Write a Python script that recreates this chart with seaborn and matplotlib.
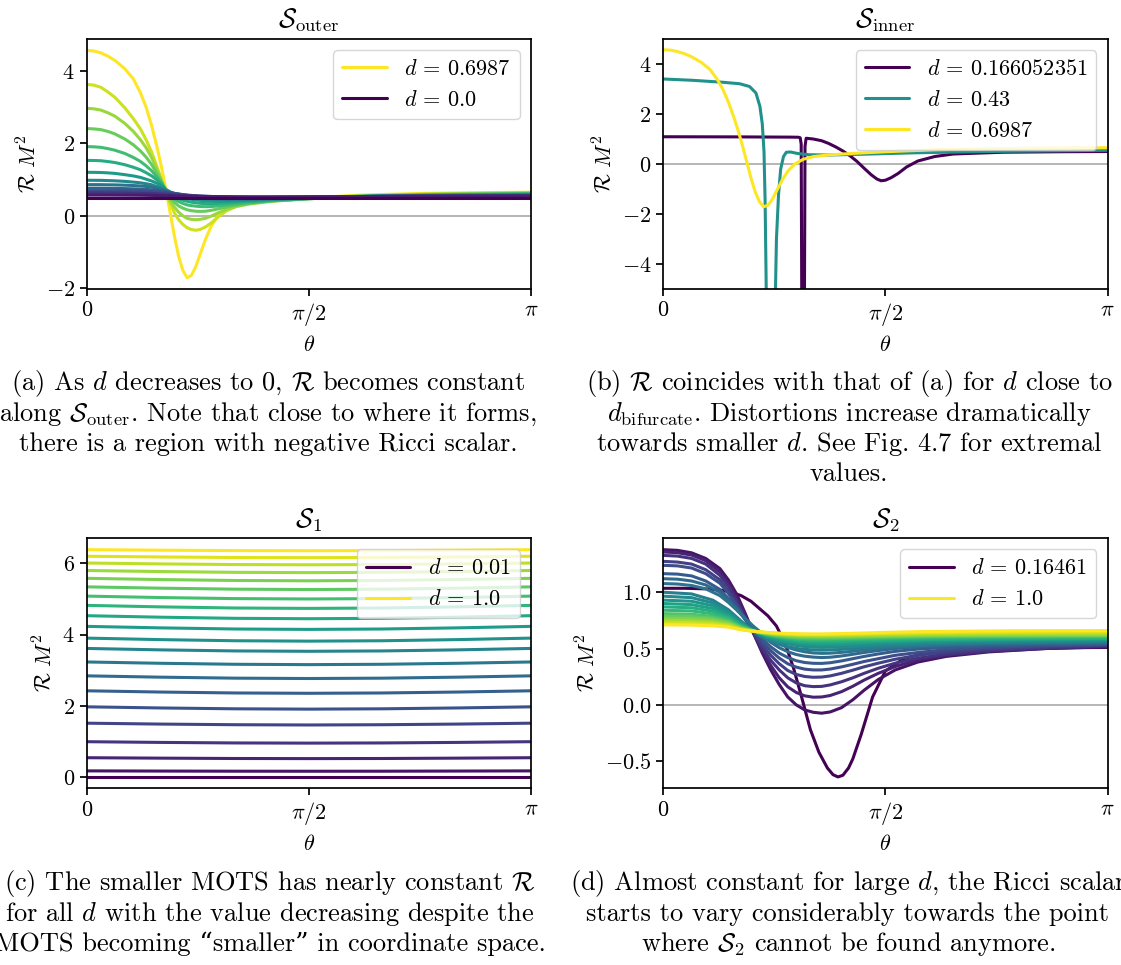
import numpy as np
import matplotlib
matplotlib.use("Agg")
import matplotlib.pyplot as plt
import seaborn as sns

# ---------------- data ----------------
PI = 3.14159265

# (a) S_outer : curves ordered from d = 0.6987 (yellow) down to d = 0.0 (purple)
theta_outer = [0, 0.05, 0.1, 0.15, 0.2, 0.27, 0.33, 0.38, 0.42, 0.46, 0.50, 0.53, 0.56, 0.59, 0.62,
               0.65, 0.68, 0.71, 0.74, 0.77, 0.80, 0.84, 0.88, 0.93, 0.99, 1.06, 1.16, 1.31, 1.57,
               1.92, 2.4, 2.8, PI]
outer_curves = [
    [4.57, 4.555, 4.50, 4.41, 4.29, 4.06, 3.78, 3.40, 3.00, 2.48, 1.85, 1.32, 0.73, 0.09, -0.56, -1.12, -1.51, -1.71, -1.65, -1.42, -1.09, -0.65, -0.29, 0.0, 0.19, 0.295, 0.36, 0.415, 0.49, 0.57, 0.62, 0.64, 0.65],
    [3.63, 3.61, 3.55, 3.42, 3.27, 2.98, 2.68, 2.40, 2.10, 1.75, 1.32, 0.99, 0.66, 0.35, 0.08, -0.11, -0.24, -0.33, -0.38, -0.40, -0.38, -0.31, -0.20, -0.03, 0.14, 0.26, 0.345, 0.41, 0.48, 0.555, 0.60, 0.625, 0.64],
    [2.97, 2.955, 2.92, 2.845, 2.75, 2.55, 2.33, 2.10, 1.88, 1.60, 1.25, 0.96, 0.68, 0.43, 0.24, 0.10, 0.0, -0.07, -0.10, -0.11, -0.10, -0.07, -0.01, 0.08, 0.18, 0.26, 0.33, 0.40, 0.47, 0.545, 0.595, 0.615, 0.63],
    [2.41, 2.40, 2.38, 2.33, 2.26, 2.12, 1.96, 1.79, 1.62, 1.41, 1.15, 0.93, 0.68, 0.50, 0.37, 0.27, 0.21, 0.165, 0.14, 0.125, 0.12, 0.125, 0.15, 0.19, 0.24, 0.29, 0.35, 0.41, 0.47, 0.54, 0.585, 0.605, 0.62],
    [1.91, 1.905, 1.89, 1.855, 1.81, 1.72, 1.61, 1.50, 1.38, 1.24, 1.06, 0.90, 0.70, 0.56, 0.46, 0.39, 0.34, 0.30, 0.28, 0.265, 0.255, 0.25, 0.255, 0.27, 0.295, 0.325, 0.365, 0.415, 0.47, 0.53, 0.575, 0.595, 0.61],
    [1.53, 1.527, 1.52, 1.498, 1.47, 1.41, 1.34, 1.27, 1.19, 1.10, 0.98, 0.87, 0.72, 0.61, 0.53, 0.47, 0.43, 0.40, 0.375, 0.36, 0.345, 0.335, 0.335, 0.34, 0.355, 0.375, 0.40, 0.435, 0.48, 0.53, 0.565, 0.585, 0.60],
    [1.20, 1.199, 1.195, 1.185, 1.17, 1.135, 1.10, 1.06, 1.01, 0.96, 0.89, 0.82, 0.73, 0.66, 0.60, 0.55, 0.51, 0.48, 0.455, 0.44, 0.425, 0.41, 0.405, 0.40, 0.405, 0.415, 0.43, 0.455, 0.49, 0.53, 0.56, 0.575, 0.59],
    [0.98, 0.979, 0.978, 0.972, 0.965, 0.95, 0.93, 0.91, 0.885, 0.855, 0.80, 0.755, 0.70, 0.65, 0.61, 0.575, 0.55, 0.53, 0.51, 0.495, 0.48, 0.47, 0.46, 0.45, 0.445, 0.445, 0.45, 0.465, 0.495, 0.53, 0.555, 0.57, 0.58],
    [0.86, 0.86, 0.859, 0.856, 0.853, 0.845, 0.835, 0.823, 0.81, 0.79, 0.76, 0.72, 0.68, 0.645, 0.615, 0.59, 0.57, 0.55, 0.535, 0.52, 0.51, 0.50, 0.49, 0.48, 0.475, 0.473, 0.475, 0.48, 0.50, 0.53, 0.55, 0.56, 0.57],
    [0.76, 0.76, 0.759, 0.757, 0.755, 0.75, 0.743, 0.735, 0.727, 0.717, 0.705, 0.69, 0.67, 0.645, 0.62, 0.60, 0.58, 0.565, 0.55, 0.54, 0.53, 0.52, 0.51, 0.50, 0.495, 0.49, 0.49, 0.495, 0.505, 0.53, 0.545, 0.555, 0.565],
    [0.69, 0.69, 0.69, 0.689, 0.687, 0.684, 0.68, 0.675, 0.67, 0.664, 0.656, 0.648, 0.64, 0.628, 0.615, 0.60, 0.585, 0.573, 0.562, 0.553, 0.545, 0.537, 0.53, 0.522, 0.515, 0.51, 0.507, 0.507, 0.515, 0.53, 0.545, 0.553, 0.558],
    [0.63, 0.63, 0.63, 0.629, 0.628, 0.626, 0.623, 0.62, 0.617, 0.613, 0.608, 0.603, 0.597, 0.59, 0.582, 0.574, 0.567, 0.56, 0.554, 0.548, 0.543, 0.538, 0.533, 0.528, 0.523, 0.52, 0.518, 0.518, 0.522, 0.532, 0.542, 0.548, 0.552],
    [0.57, 0.57, 0.57, 0.57, 0.569, 0.568, 0.567, 0.566, 0.564, 0.562, 0.56, 0.557, 0.554, 0.551, 0.548, 0.545, 0.542, 0.539, 0.536, 0.534, 0.532, 0.53, 0.528, 0.526, 0.524, 0.522, 0.521, 0.521, 0.524, 0.53, 0.537, 0.541, 0.543],
]
theta_outer_d0 = [0, PI]
outer_d0 = [0.5, 0.5]
outer_labels = [r"$d\,=\,0.6987$", r"$d\,=\,0.0$"]

# (b) S_inner
theta_inner_a = [0, 0.5, 0.90, 0.955, 0.968, 0.975, 0.982, 0.988, 0.995, 1.002, 1.01, 1.06, 1.12,
                 1.17, 1.22, 1.27, 1.32, 1.37, 1.42, 1.47, 1.51, 1.54, 1.57, 1.61, 1.66, 1.72,
                 1.80, 1.92, 2.05, 2.4, 2.8, PI]
inner_a = [1.09, 1.085, 1.075, 1.07, 1.05, 0.8, -10, -40, -10, 0.7, 1.03, 1.0, 0.93, 0.82, 0.68,
           0.52, 0.33, 0.10, -0.17, -0.43, -0.60, -0.67, -0.65, -0.55, -0.38, -0.12, 0.12, 0.30,
           0.40, 0.47, 0.49, 0.50]
theta_inner_b = [0, 0.2, 0.42, 0.54, 0.61, 0.655, 0.683, 0.70, 0.712, 0.72, 0.73, 0.76, 0.79,
                 0.80, 0.815, 0.83, 0.85, 0.87, 0.90, 0.95, 1.03, 1.17, 1.40, 1.80, 2.3, 2.8, PI]
inner_b = [3.40, 3.35, 3.27, 3.21, 3.10, 2.84, 2.31, 1.6, 0.5, -1.5, -6, -30, -6, -3.0, -1.2,
           -0.2, 0.30, 0.47, 0.48, 0.42, 0.37, 0.36, 0.39, 0.45, 0.50, 0.53, 0.55]
inner_c = outer_curves[0]
inner_labels = [r"$d\,=\,0.166052351$", r"$d\,=\,0.43$", r"$d\,=\,0.6987$"]

# (c) S_1 : from d = 0.01 (purple) to d = 1.0 (yellow)
theta_s1 = [0, 0.52, 1.05, 1.57, 2.09, 2.62, PI]
s1_curves = [
    [0.0, 0.0, 0.0, 0.0, 0.0, 0.0, 0.0],
    [0.17, 0.165, 0.161, 0.16, 0.161, 0.165, 0.17],
    [0.54, 0.528, 0.518, 0.515, 0.518, 0.528, 0.54],
    [0.99, 0.97, 0.955, 0.95, 0.955, 0.97, 0.99],
    [1.51, 1.485, 1.467, 1.46, 1.467, 1.485, 1.51],
    [1.97, 1.938, 1.914, 1.905, 1.914, 1.938, 1.97],
    [2.42, 2.385, 2.359, 2.35, 2.359, 2.385, 2.42],
    [2.84, 2.803, 2.775, 2.765, 2.775, 2.803, 2.84],
    [3.23, 3.193, 3.165, 3.155, 3.165, 3.193, 3.23],
    [3.61, 3.57, 3.54, 3.53, 3.54, 3.57, 3.61],
    [3.90, 3.858, 3.826, 3.815, 3.826, 3.858, 3.90],
    [4.23, 4.188, 4.156, 4.145, 4.156, 4.188, 4.23],
    [4.53, 4.488, 4.456, 4.445, 4.456, 4.488, 4.53],
    [4.82, 4.778, 4.746, 4.735, 4.746, 4.778, 4.82],
    [5.08, 5.04, 5.01, 5.0, 5.01, 5.04, 5.08],
    [5.34, 5.303, 5.275, 5.265, 5.275, 5.303, 5.34],
    [5.58, 5.545, 5.519, 5.51, 5.519, 5.545, 5.58],
    [5.80, 5.77, 5.748, 5.74, 5.748, 5.77, 5.80],
    [6.01, 5.985, 5.967, 5.96, 5.967, 5.985, 6.01],
    [6.20, 6.18, 6.165, 6.16, 6.165, 6.18, 6.20],
    [6.385, 6.37, 6.359, 6.355, 6.359, 6.37, 6.385],
]
s1_labels = [r"$d\,=\,0.01$", r"$d\,=\,1.0$"]

# (d) S_2 : from d = 0.16461 (purple) to d = 1.0 (yellow)
theta_s2_first = [0, 0.15, 0.30, 0.40, 0.48, 0.55, 0.62, 0.68, 0.74, 0.80, 0.86, 0.92, 0.98, 1.04,
                  1.10, 1.16, 1.20, 1.235, 1.27, 1.31, 1.34, 1.40, 1.48, 1.57, 1.70, 1.85, 2.05,
                  2.35, 2.70, PI]
s2_first = [1.035, 1.035, 1.03, 1.02, 1.00, 0.97, 0.92, 0.855, 0.79, 0.70, 0.55, 0.33, 0.06, -0.22,
            -0.42, -0.56, -0.62, -0.64, -0.625, -0.56, -0.48, -0.26, 0.07, 0.30, 0.41, 0.46, 0.485,
            0.50, 0.505, 0.51]
theta_s2_dark = [0, 0.1, 0.2, 0.3, 0.4, 0.46, 0.52, 0.58, 0.64, 0.70, 0.76, 0.82, 0.88, 0.94, 1.00,
                 1.06, 1.12, 1.18, 1.26, 1.34, 1.42, 1.52, 1.64, 1.80, 2.00, 2.30, 2.70, PI]
s2_dark = [
    [1.378, 1.372, 1.35, 1.30, 1.21, 1.11, 0.98, 0.81, 0.63, 0.46, 0.31, 0.18, 0.07, 0.0, -0.045, -0.066, -0.074, -0.063, -0.025, 0.045, 0.13, 0.225, 0.31, 0.38, 0.43, 0.47, 0.50, 0.515],
    [1.357, 1.351, 1.33, 1.28, 1.18, 1.08, 0.95, 0.79, 0.63, 0.48, 0.35, 0.24, 0.16, 0.11, 0.08, 0.068, 0.07, 0.083, 0.117, 0.165, 0.22, 0.28, 0.34, 0.40, 0.44, 0.475, 0.50, 0.52],
    [1.327, 1.321, 1.30, 1.25, 1.15, 1.05, 0.92, 0.77, 0.63, 0.50, 0.395, 0.31, 0.24, 0.195, 0.17, 0.162, 0.164, 0.177, 0.205, 0.24, 0.28, 0.325, 0.37, 0.415, 0.45, 0.48, 0.505, 0.525],
    [1.274, 1.268, 1.25, 1.20, 1.11, 1.01, 0.89, 0.76, 0.64, 0.53, 0.44, 0.365, 0.305, 0.27, 0.252, 0.245, 0.247, 0.257, 0.28, 0.308, 0.338, 0.37, 0.405, 0.44, 0.47, 0.495, 0.515, 0.53],
    [1.239, 1.234, 1.215, 1.165, 1.08, 0.99, 0.88, 0.76, 0.65, 0.56, 0.48, 0.415, 0.365, 0.335, 0.317, 0.31, 0.31, 0.318, 0.337, 0.36, 0.385, 0.41, 0.44, 0.465, 0.49, 0.51, 0.525, 0.535],
    [1.165, 1.161, 1.145, 1.10, 1.025, 0.945, 0.855, 0.755, 0.665, 0.585, 0.515, 0.46, 0.42, 0.392, 0.376, 0.369, 0.368, 0.374, 0.39, 0.41, 0.43, 0.452, 0.475, 0.495, 0.51, 0.525, 0.535, 0.54],
    [1.12, 1.116, 1.10, 1.065, 1.00, 0.93, 0.85, 0.765, 0.685, 0.615, 0.555, 0.507, 0.472, 0.447, 0.432, 0.424, 0.42, 0.423, 0.434, 0.449, 0.465, 0.482, 0.50, 0.515, 0.527, 0.538, 0.545, 0.55],
    [1.077, 1.073, 1.06, 1.03, 0.97, 0.91, 0.84, 0.765, 0.695, 0.633, 0.58, 0.54, 0.51, 0.487, 0.471, 0.461, 0.457, 0.459, 0.466, 0.476, 0.488, 0.50, 0.513, 0.525, 0.535, 0.545, 0.55, 0.555],
]
theta_s2_light = [0, 0.2, 0.35, 0.46, 0.55, 0.61, 0.67, 0.73, 0.80, 0.88, 0.96, 1.04, 1.12, 1.22,
                  1.32, 1.44, 1.58, 1.80, 2.10, 2.50, PI]
s2_light = [
    [1.00, 0.985, 0.93, 0.845, 0.745, 0.683, 0.627, 0.582, 0.545, 0.516, 0.498, 0.489, 0.486, 0.49, 0.497, 0.508, 0.52, 0.535, 0.548, 0.558, 0.565],
    [0.965, 0.952, 0.905, 0.828, 0.737, 0.68, 0.635, 0.598, 0.567, 0.541, 0.523, 0.513, 0.51, 0.513, 0.518, 0.527, 0.537, 0.549, 0.558, 0.565, 0.57],
    [0.93, 0.92, 0.88, 0.81, 0.727, 0.68, 0.64, 0.607, 0.58, 0.557, 0.541, 0.532, 0.53, 0.532, 0.537, 0.545, 0.553, 0.563, 0.57, 0.576, 0.58],
    [0.90, 0.89, 0.855, 0.795, 0.717, 0.676, 0.641, 0.612, 0.589, 0.568, 0.554, 0.547, 0.545, 0.547, 0.551, 0.557, 0.563, 0.571, 0.577, 0.582, 0.585],
    [0.87, 0.862, 0.832, 0.78, 0.707, 0.672, 0.642, 0.617, 0.597, 0.58, 0.567, 0.561, 0.56, 0.562, 0.565, 0.569, 0.574, 0.58, 0.584, 0.588, 0.59],
    [0.84, 0.834, 0.808, 0.765, 0.699, 0.67, 0.644, 0.622, 0.605, 0.59, 0.58, 0.576, 0.575, 0.577, 0.579, 0.583, 0.586, 0.591, 0.595, 0.598, 0.60],
    [0.81, 0.805, 0.785, 0.75, 0.691, 0.667, 0.645, 0.627, 0.611, 0.598, 0.59, 0.586, 0.585, 0.587, 0.589, 0.593, 0.596, 0.601, 0.605, 0.608, 0.61],
    [0.79, 0.786, 0.77, 0.738, 0.686, 0.665, 0.646, 0.63, 0.616, 0.605, 0.599, 0.596, 0.595, 0.596, 0.598, 0.601, 0.604, 0.608, 0.611, 0.613, 0.615],
    [0.77, 0.767, 0.753, 0.727, 0.681, 0.663, 0.647, 0.634, 0.622, 0.613, 0.608, 0.606, 0.605, 0.606, 0.607, 0.61, 0.612, 0.615, 0.617, 0.619, 0.62],
    [0.75, 0.747, 0.737, 0.715, 0.676, 0.661, 0.648, 0.637, 0.627, 0.62, 0.615, 0.613, 0.612, 0.613, 0.615, 0.617, 0.62, 0.624, 0.626, 0.629, 0.63],
    [0.735, 0.733, 0.724, 0.706, 0.673, 0.66, 0.649, 0.64, 0.632, 0.626, 0.622, 0.62, 0.62, 0.621, 0.623, 0.626, 0.629, 0.633, 0.636, 0.638, 0.64],
    [0.72, 0.718, 0.711, 0.697, 0.669, 0.658, 0.65, 0.642, 0.635, 0.63, 0.627, 0.625, 0.625, 0.627, 0.629, 0.633, 0.636, 0.641, 0.645, 0.648, 0.65],
    [0.71, 0.708, 0.702, 0.69, 0.666, 0.657, 0.65, 0.644, 0.638, 0.634, 0.631, 0.63, 0.63, 0.632, 0.635, 0.639, 0.644, 0.65, 0.654, 0.658, 0.66],
]
s2_labels = [r"$d\,=\,0.16461$", r"$d\,=\,1.0$"]

xtick_labels = [r"$0$", r"$\pi/2$", r"$\pi$"]
titles = [r"$\mathcal{S}_{\rm outer}$", r"$\mathcal{S}_{\rm inner}$", r"$\mathcal{S}_1$", r"$\mathcal{S}_2$"]
captions = [
    ["(a) As $d$ decreases to 0, $\\mathcal{R}$ becomes constant",
     "along $\\mathcal{S}_{\\rm outer}$. Note that close to where it forms,",
     "there is a region with negative Ricci scalar."],
    ["(b) $\\mathcal{R}$ coincides with that of (a) for $d$ close to",
     "$d_{\\rm bifurcate}$. Distortions increase dramatically",
     "towards smaller $d$. See Fig. 4.7 for extremal",
     "values."],
    ["(c) The smaller MOTS has nearly constant $\\mathcal{R}$",
     "for all $d$ with the value decreasing despite the",
     "MOTS becoming \u201csmaller\u201d in coordinate space."],
    ["(d) Almost constant for large $d$, the Ricci scalar",
     "starts to vary considerably towards the point",
     "where $\\mathcal{S}_2$ cannot be found anymore."],
]

# ---------------- style ----------------
sns.set_theme(style="ticks")
FS = 16
plt.rcParams.update({
    "font.family": ["cmr10", "DejaVu Serif"],
    "mathtext.fontset": "cm",
    "axes.formatter.use_mathtext": True,
    "axes.unicode_minus": True,
    "text.color": "black", "axes.edgecolor": "black", "axes.labelcolor": "black",
    "xtick.color": "black", "ytick.color": "black",
    "axes.linewidth": 1.25, "xtick.major.width": 1.25, "ytick.major.width": 1.25,
    "xtick.major.size": 5, "ytick.major.size": 5,
    "xtick.major.pad": 3.5, "ytick.major.pad": 3.5,
    "font.size": FS, "axes.titlesize": FS * 1.2, "axes.labelsize": FS,
    "xtick.labelsize": FS, "ytick.labelsize": FS, "legend.fontsize": FS,
})

W, H = 1121, 965
fig = plt.figure(figsize=(W / 100, H / 100), dpi=100)
vir = plt.get_cmap("viridis")
LW = 2.2


def px_axes(left, top, right, bottom):
    return fig.add_axes([left / W, 1 - bottom / H, (right - left) / W, (bottom - top) / H])


ax_a = px_axes(86.7, 39, 531, 289)
ax_b = px_axes(663.3, 39, 1107.6, 289)
ax_c = px_axes(86.7, 538.3, 531, 788.3)
ax_d = px_axes(663.3, 538.3, 1107.6, 788.3)


def line(ax, th, vals, color, label=None):
    sns.lineplot(x=np.asarray(th, float), y=np.asarray(vals, float), color=color, linewidth=LW,
                 ax=ax, label=label, estimator=None, sort=False, legend=False)


# (a)
n_a = len(outer_curves) + 1
for i, vals in enumerate(outer_curves):
    line(ax_a, theta_outer, vals, vir(1 - i / (n_a - 1)), outer_labels[0] if i == 0 else None)
line(ax_a, theta_outer_d0, outer_d0, vir(0.0), outer_labels[1])

# (b)
line(ax_b, theta_inner_a, inner_a, vir(0.0), inner_labels[0])
line(ax_b, theta_inner_b, inner_b, vir(0.5), inner_labels[1])
line(ax_b, theta_outer, inner_c, vir(1.0), inner_labels[2])
ax_b.set_ylim(-5, 5)

# (c)
n_c = len(s1_curves)
for i, vals in enumerate(s1_curves):
    lab = s1_labels[0] if i == 0 else (s1_labels[1] if i == n_c - 1 else None)
    line(ax_c, theta_s1, vals, vir(i / (n_c - 1)), lab)

# (d)
n_d = 1 + len(s2_dark) + len(s2_light)
line(ax_d, theta_s2_first, s2_first, vir(0.0), s2_labels[0])
k = 1
for vals in s2_dark:
    line(ax_d, theta_s2_dark, vals, vir(k / (n_d - 1)))
    k += 1
for j, vals in enumerate(s2_light):
    lab = s2_labels[1] if j == len(s2_light) - 1 else None
    line(ax_d, theta_s2_light, vals, vir(k / (n_d - 1)), lab)
    k += 1

for ax, title in zip([ax_a, ax_b, ax_c, ax_d], titles):
    ax.set_xlim(0, np.pi)
    ax.set_xticks([0, np.pi / 2, np.pi])
    ax.set_xticklabels(xtick_labels)
    ax.set_xlabel(r"$\theta$", labelpad=5)
    ax.set_ylabel(r"$\mathcal{R}\ M^2$", labelpad=4)
    ax.set_title(title, pad=8)
    for s in ax.spines.values():
        s.set_visible(True)
        s.set_color("black")
    if ax is not ax_c:
        ax.axhline(0, color="#b0b0b0", lw=1.3, zorder=1)
    ax.legend(loc="upper right", frameon=True, framealpha=0.8, edgecolor="0.8",
              fancybox=True, handlelength=2.0)

cap_x = [268, 849, 270, 848]
cap_y0 = [390, 390, 890, 890]
for cx, cy, lines in zip(cap_x, cap_y0, captions):
    for j, txt in enumerate(lines):
        fig.text(cx / W, 1 - (cy + 30.5 * j) / H, txt, ha="center", va="baseline", fontsize=19)

fig.savefig("out.png", dpi=100)
